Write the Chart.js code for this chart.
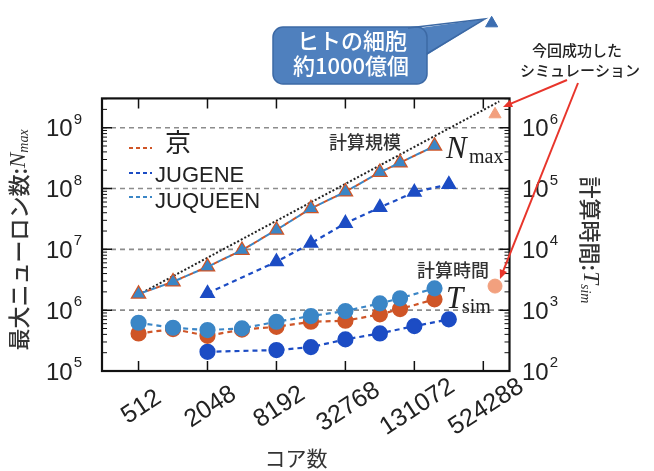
<!DOCTYPE html>
<html>
<head>
<meta charset="utf-8">
<script src="https://cdn.jsdelivr.net/npm/chart.js@4.4.1/dist/chart.umd.min.js"></script>
<style>
html, body { margin: 0; padding: 0; background: #fff; }
</style>
</head>
<body>
<canvas id="chart" width="654" height="471"></canvas>
<script>
// cores (x) and values
const k_cores = [512, 1024, 2048, 4096, 8192, 16384, 32768, 65536, 98304, 196608];
const k_nmax = [1.84e6, 2.93e6, 5.17e6, 9.7e6, 2.09e7, 4.7e7, 8.85e7, 1.85e8, 2.66e8, 5.0e8];
const k_tsim = [415, 489, 379, 480, 533, 645, 670, 853, 1042, 1506];

const juqueen_cores = [512, 1024, 2048, 4096, 8192, 16384, 32768, 65536, 98304, 196608];
const juqueen_nmax = [1.84e6, 2.93e6, 5.17e6, 9.7e6, 2.09e7, 4.7e7, 8.85e7, 1.85e8, 2.66e8, 5.0e8];
const juqueen_tsim = [621, 514, 471, 502, 645, 800, 966, 1294, 1565, 2284];

const jugene_cores = [2048, 8192, 16384, 32768, 65536, 131072, 262144];
const jugene_nmax = [1.89e6, 6.25e6, 1.26e7, 2.68e7, 4.9e7, 8.7e7, 1.17e8];
const jugene_tsim = [207, 221, 247, 331, 415, 547, 706];

const scale_cores = [512, 722000];
const scale_nmax = [1.8e6, 2.7e9];

const new_cores = [663552];
const new_nmax = [1.66e9];
const new_tsim = [2490];

const brain_cores = [620000];
const brain_nmax = [5.2e10];

const x_ticks = [512, 2048, 8192, 32768, 131072, 524288];
const left_exp = [5, 6, 7, 8, 9];
const right_exp = [2, 3, 4, 5, 6];

// visible frame top of the left axis (the scale itself reaches higher so the
// callout triangle above the frame can still be drawn)
const FRAME_TOP = 3.03e9;

const COLORS = {
    k: '#cf5527',
    juqueen: '#3b86c6',
    jugene: '#1c4cc4',
    light_orange: '#f2a07e',
    callout: '#4f80be',
    arrow: '#e8352b'
};

function pts(xs, ys) {
    return xs.map((x, i) => ({x: x, y: ys[i]}));
}

function text(ctx, s, x, y, font, color, align, base) {
    ctx.font = font;
    ctx.fillStyle = color || '#222';
    ctx.textAlign = align || 'left';
    ctx.textBaseline = base || 'middle';
    ctx.fillText(s, x, y);
}

function pow10(ctx, e, x, y, align) {
    ctx.font = '24px "Liberation Sans"';
    const w1 = ctx.measureText('10').width;
    ctx.font = '15px "Liberation Sans"';
    const w2 = ctx.measureText(String(e)).width;
    const x0 = align === 'right' ? x - w1 - w2 - 1 : x;
    text(ctx, '10', x0, y, '24px "Liberation Sans"', '#222', 'left', 'middle');
    text(ctx, String(e), x0 + w1 + 1, y - 10, '15px "Liberation Sans"', '#222', 'left', 'middle');
}

function arrow(ctx, x1, y1, x2, y2) {
    const ang = Math.atan2(y2 - y1, x2 - x1);
    ctx.beginPath();
    ctx.moveTo(x1, y1);
    ctx.lineTo(x2 - 6 * Math.cos(ang), y2 - 6 * Math.sin(ang));
    ctx.stroke();
    ctx.beginPath();
    ctx.moveTo(x2, y2);
    ctx.lineTo(x2 - 10 * Math.cos(ang - 0.4), y2 - 10 * Math.sin(ang - 0.4));
    ctx.lineTo(x2 - 10 * Math.cos(ang + 0.4), y2 - 10 * Math.sin(ang + 0.4));
    ctx.closePath();
    ctx.fill();
}

const decor = {
    id: 'decor',
    beforeDatasetsDraw(chart) {
        const {ctx, chartArea: a, scales} = chart;
        ctx.save();
        ctx.strokeStyle = '#8c8c8c';
        ctx.lineWidth = 1.6;
        ctx.setLineDash([5, 4]);
        left_exp.forEach(e => {
            if (e === 5) return;
            const y = scales.y.getPixelForValue(Math.pow(10, e));
            ctx.beginPath();
            ctx.moveTo(a.left, y);
            ctx.lineTo(a.right, y);
            ctx.stroke();
        });
        ctx.restore();
    },
    afterDatasetsDraw(chart) {
        const {ctx, chartArea: a, scales} = chart;
        const top = scales.y.getPixelForValue(FRAME_TOP);
        ctx.save();
        ctx.strokeStyle = '#111';
        ctx.lineWidth = 1.5;
        // x ticks, top and bottom
        x_ticks.forEach(v => {
            const x = scales.x.getPixelForValue(v);
            ctx.beginPath();
            ctx.moveTo(x, a.bottom); ctx.lineTo(x, a.bottom - 10);
            ctx.moveTo(x, top); ctx.lineTo(x, top + 10);
            ctx.stroke();
        });
        // y ticks, major and minor on both sides
        for (let e = 5; e <= 9; e++) {
            for (let m = 1; m <= 9; m++) {
                const v = m * Math.pow(10, e);
                if (v > FRAME_TOP) break;
                const y = scales.y.getPixelForValue(v);
                const len = m === 1 ? 10 : 5;
                ctx.lineWidth = m === 1 ? 1.5 : 1;
                ctx.beginPath();
                ctx.moveTo(a.left, y); ctx.lineTo(a.left + len, y);
                ctx.moveTo(a.right, y); ctx.lineTo(a.right - len, y);
                ctx.stroke();
            }
        }
        ctx.lineWidth = 2.2;
        ctx.strokeRect(a.left, top, a.right - a.left, a.bottom - top);
        ctx.restore();
    },
    afterDraw(chart) {
        const {ctx, scales} = chart;
        ctx.save();

        // tick labels
        left_exp.forEach(e => {
            pow10(ctx, e, 82, scales.y.getPixelForValue(Math.pow(10, e)) + 2, 'right');
        });
        right_exp.forEach(e => {
            pow10(ctx, e, 522, scales.y2.getPixelForValue(Math.pow(10, e)) + 2, 'left');
        });
        x_ticks.forEach(v => {
            const x = scales.x.getPixelForValue(v);
            ctx.save();
            ctx.translate(x + 3, 407);
            ctx.rotate(-33 * Math.PI / 180);
            text(ctx, String(v), 0, 0, '25px "Liberation Sans"', '#222', 'center', 'middle');
            ctx.restore();
        });

        // axis titles
        text(ctx, 'コア数', 296, 458, '21px "Noto Sans CJK JP"', '#333', 'center', 'middle');

        ctx.save();
        ctx.translate(19, 240);
        ctx.rotate(-Math.PI / 2);
        ctx.font = '500 22px "Noto Sans CJK JP"';
        const t1 = '最大ニューロン数:';
        const w1 = ctx.measureText(t1).width;
        ctx.font = 'italic 23px "Liberation Serif"';
        const w2 = ctx.measureText('N').width;
        ctx.font = 'italic 14px "Liberation Serif"';
        const w3 = ctx.measureText('max').width;
        let sx = -(w1 + w2 + w3) / 2;
        text(ctx, t1, sx, 0, '500 22px "Noto Sans CJK JP"', '#333', 'left', 'middle');
        text(ctx, 'N', sx + w1, 0, 'italic 23px "Liberation Serif"', '#333', 'left', 'middle');
        text(ctx, 'max', sx + w1 + w2, 5, 'italic 14px "Liberation Serif"', '#333', 'left', 'middle');
        ctx.restore();

        ctx.save();
        ctx.translate(590, 240);
        ctx.rotate(Math.PI / 2);
        ctx.font = '500 22px "Noto Sans CJK JP"';
        const r1 = '計算時間:';
        const rw1 = ctx.measureText(r1).width;
        ctx.font = 'italic 23px "Liberation Serif"';
        const rw2 = ctx.measureText('T').width;
        ctx.font = 'italic 14px "Liberation Serif"';
        const rw3 = ctx.measureText('sim').width;
        sx = -(rw1 + rw2 + rw3) / 2;
        text(ctx, r1, sx, 0, '500 22px "Noto Sans CJK JP"', '#333', 'left', 'middle');
        text(ctx, 'T', sx + rw1, 0, 'italic 23px "Liberation Serif"', '#333', 'left', 'middle');
        text(ctx, 'sim', sx + rw1 + rw2, 5, 'italic 14px "Liberation Serif"', '#333', 'left', 'middle');
        ctx.restore();

        // legend
        const legend = [
            ['京', COLORS.k, 148, 142, '26px "Noto Sans CJK JP"', 165],
            ['JUGENE', COLORS.jugene, 173, 176, '22px "Liberation Sans"', 155],
            ['JUQUEEN', COLORS.juqueen, 197, 202, '22px "Liberation Sans"', 155]
        ];
        legend.forEach(([label, color, ly, ty, font, tx]) => {
            ctx.save();
            ctx.strokeStyle = color;
            ctx.lineWidth = 2;
            ctx.setLineDash([4, 3]);
            ctx.beginPath();
            ctx.moveTo(129, ly); ctx.lineTo(152, ly);
            ctx.stroke();
            ctx.restore();
            text(ctx, label, tx, ty, font, '#222', 'left', 'middle');
        });

        // in-plot annotations
        text(ctx, '計算規模', 365, 142, '500 18px "Noto Sans CJK JP"', '#333', 'center', 'middle');
        text(ctx, 'N', 446, 158, 'italic 31px "Liberation Serif"', '#222', 'left', 'alphabetic');
        text(ctx, 'max', 469, 163, '20px "Liberation Serif"', '#222', 'left', 'alphabetic');
        text(ctx, '計算時間', 453, 270, '500 18px "Noto Sans CJK JP"', '#333', 'center', 'middle');
        text(ctx, 'T', 446, 308, 'italic 31px "Liberation Serif"', '#222', 'left', 'alphabetic');
        text(ctx, 'sim', 462, 313, '20px "Liberation Serif"', '#222', 'left', 'alphabetic');

        // callout
        ctx.fillStyle = COLORS.callout;
        ctx.strokeStyle = '#3c69a5';
        ctx.lineWidth = 1.5;
        ctx.beginPath();
        ctx.moveTo(405, 30);
        ctx.lineTo(485, 19);
        ctx.lineTo(427, 55);
        ctx.closePath();
        ctx.fill();
        ctx.beginPath();
        ctx.roundRect(273, 27, 154, 57, 10);
        ctx.fill();
        ctx.stroke();
        ctx.beginPath();
        ctx.moveTo(408, 28); ctx.lineTo(485, 19); ctx.lineTo(426.5, 54);
        ctx.stroke();
        text(ctx, 'ヒトの細胞', 352, 41, '500 22px "Noto Sans CJK JP"', '#fff', 'center', 'middle');
        text(ctx, '約1000億個', 351, 66, '500 22px "Noto Sans CJK JP"', '#fff', 'center', 'middle');

        // new simulation note
        text(ctx, '今回成功した', 577, 50, '500 15px "Noto Sans CJK JP"', '#222', 'center', 'middle');
        text(ctx, 'シミュレーション', 580, 70, '500 15px "Noto Sans CJK JP"', '#222', 'center', 'middle');
        ctx.strokeStyle = COLORS.arrow;
        ctx.fillStyle = COLORS.arrow;
        ctx.lineWidth = 2;
        arrow(ctx, 567, 80, 503, 107);
        arrow(ctx, 578, 83, 500, 279);

        ctx.restore();
    }
};

const dashed = [5, 4];
const config = {
    type: 'line',
    data: {
        datasets: [
            {
                label: 'brain',
                data: pts(brain_cores, brain_nmax),
                showLine: false,
                pointStyle: 'triangle',
                pointRadius: 7,
                backgroundColor: '#3b6db0',
                borderColor: '#3b6db0',
                order: 1
            },
            {
                label: 'new_nmax',
                data: pts(new_cores, new_nmax),
                showLine: false,
                pointStyle: 'triangle',
                pointRadius: 7,
                backgroundColor: COLORS.light_orange,
                borderColor: COLORS.light_orange,
                order: 1
            },
            {
                label: 'new_tsim',
                data: pts(new_cores, new_tsim),
                yAxisID: 'y2',
                showLine: false,
                pointRadius: 7,
                backgroundColor: COLORS.light_orange,
                borderColor: COLORS.light_orange,
                order: 1
            },
            {
                label: 'JUQUEEN Tsim',
                data: pts(juqueen_cores, juqueen_tsim),
                yAxisID: 'y2',
                borderColor: COLORS.juqueen,
                backgroundColor: COLORS.juqueen,
                borderDash: dashed,
                borderWidth: 2.2,
                pointRadius: 7,
                order: 2
            },
            {
                label: 'K Tsim',
                data: pts(k_cores, k_tsim),
                yAxisID: 'y2',
                borderColor: COLORS.k,
                backgroundColor: COLORS.k,
                borderDash: dashed,
                borderWidth: 2.2,
                pointRadius: 7,
                order: 3
            },
            {
                label: 'JUGENE Tsim',
                data: pts(jugene_cores, jugene_tsim),
                yAxisID: 'y2',
                borderColor: COLORS.jugene,
                backgroundColor: COLORS.jugene,
                borderDash: dashed,
                borderWidth: 2.2,
                pointRadius: 7,
                order: 3
            },
            {
                label: 'JUQUEEN Nmax',
                data: pts(juqueen_cores, juqueen_nmax),
                borderColor: COLORS.juqueen,
                backgroundColor: COLORS.juqueen,
                borderDash: dashed,
                borderDashOffset: 4.5,
                borderWidth: 2,
                pointStyle: 'triangle',
                pointRadius: 5,
                order: 4
            },
            {
                label: 'K Nmax',
                data: pts(k_cores, k_nmax),
                borderColor: COLORS.k,
                backgroundColor: COLORS.k,
                borderDash: dashed,
                borderWidth: 2,
                pointStyle: 'triangle',
                pointRadius: 7.5,
                order: 5
            },
            {
                label: 'JUGENE Nmax',
                data: pts(jugene_cores, jugene_nmax),
                borderColor: COLORS.jugene,
                backgroundColor: COLORS.jugene,
                borderDash: dashed,
                borderWidth: 2.2,
                pointStyle: 'triangle',
                pointRadius: 7,
                order: 5
            },
            {
                label: '計算規模',
                data: pts(scale_cores, scale_nmax),
                borderColor: '#222',
                borderDash: [2, 2],
                borderWidth: 2,
                pointRadius: 0,
                order: 6
            }
        ]
    },
    options: {
        responsive: false,
        animation: false,
        events: [],
        layout: {
            padding: {left: 102, right: 144.5, top: 10, bottom: 100}
        },
        scales: {
            x: {type: 'logarithmic', min: 245.6, max: 887600, display: false},
            y: {type: 'logarithmic', min: 1e5, max: 8.61e10, display: false},
            y2: {type: 'logarithmic', position: 'right', min: 1e2, max: 8.61e7, display: false}
        },
        plugins: {
            legend: {display: false},
            tooltip: {enabled: false}
        }
    },
    plugins: [decor]
};

new Chart(document.getElementById('chart').getContext('2d'), config);
</script>
</body>
</html>
